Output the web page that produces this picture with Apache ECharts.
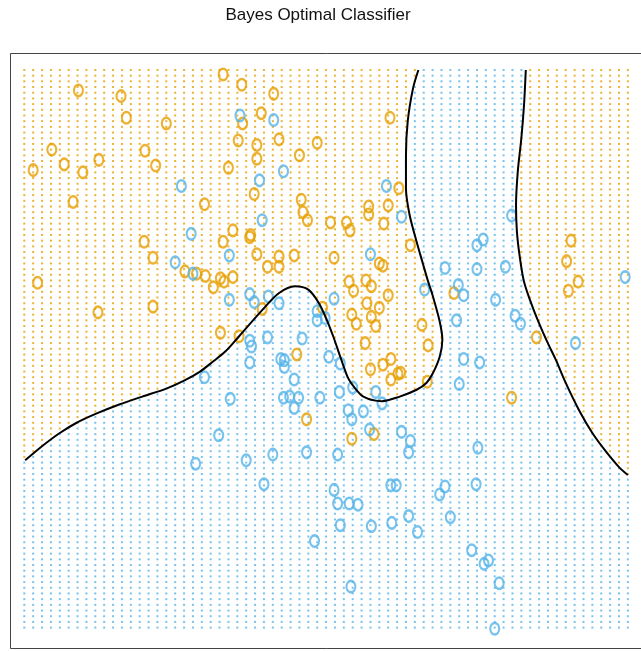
<!DOCTYPE html>
<html>
<head>
<meta charset="utf-8">
<script src="https://cdn.jsdelivr.net/npm/echarts@6/dist/echarts.min.js"></script>
<style>
html,body{margin:0;padding:0;background:#fff;}
#chart{width:641px;height:651px;}
</style>
</head>
<body>
<div id="chart"></div>
<script>
// ---- data (x1, x2) ----
const orangePoints = [
[-1.99,2.72],[-1.51,2.67],[-1.45,2.48],[-1.00,2.43],[-2.29,2.20],[-1.76,2.11],[-2.15,2.07],[-2.50,2.02],
[-1.94,2.00],[-1.24,2.19],[-1.12,2.06],[-2.05,1.74],[-0.57,1.72],[-1.25,1.39],[-1.15,1.25],[-2.45,1.03],
[-1.77,0.77],[-1.15,0.82],[-0.79,1.13],[-0.66,1.11],[-0.56,1.09],[-0.47,0.99],[-0.39,1.07],[-0.35,1.04],
[-0.36,1.39],[-0.39,0.59],[-0.36,2.86],[-0.30,2.04],[-0.15,2.77],[0.21,2.69],[0.07,2.52],[-0.14,2.43],
[-0.19,2.28],[0.02,2.24],[0.02,2.12],[0.27,2.29],[0.70,2.26],[0.50,2.15],[1.52,2.48],[-0.01,1.81],
[0.52,1.76],[0.54,1.65],[0.59,1.58],[0.85,1.56],[1.03,1.56],[1.07,1.49],[1.28,1.70],[1.28,1.63],
[1.50,1.71],[1.45,1.55],[1.62,1.86],[1.75,1.36],[-0.25,1.49],[-0.05,1.45],[-0.06,1.43],[0.02,1.28],
[0.27,1.26],[0.27,1.17],[0.14,1.17],[0.44,1.27],[0.89,1.25],[-0.25,1.08],[0.08,0.80],[-0.18,0.56],
[1.06,1.04],[1.11,0.96],[1.25,1.05],[1.31,1.00],[1.50,0.92],[1.26,0.85],[1.40,0.81],[1.09,0.75],
[1.14,0.67],[1.31,0.73],[1.36,0.65],[0.76,0.81],[1.88,0.66],[1.24,0.50],[1.40,1.20],[1.44,1.18],
[3.56,1.40],[3.51,1.22],[3.64,1.04],[3.53,0.96],[2.24,0.94],[3.17,0.55],[1.95,0.48],[0.47,0.40],
[1.30,0.27],[1.44,0.31],[1.53,0.36],[1.53,0.18],[1.61,0.23],[1.64,0.24],[1.94,0.16],[0.58,-0.17],
[1.09,-0.34],[1.34,-0.30],[2.89,0.02]
];
const bluePoints = [
[-0.83,1.88],[-0.72,1.46],[-0.90,1.21],[-0.70,1.11],[-0.29,1.27],[-0.29,0.88],[-0.17,2.50],[0.21,2.46],
[0.32,2.01],[0.05,1.93],[0.08,1.58],[1.48,1.88],[1.65,1.61],[1.30,1.28],[1.91,0.97],[-0.06,0.93],
[-0.01,0.86],[0.15,0.91],[0.27,0.85],[0.89,0.89],[0.70,0.78],[0.70,0.70],[0.79,0.72],[-0.06,0.52],
[0.14,0.55],[0.53,0.54],[2.89,1.62],[2.50,1.36],[2.57,1.41],[2.14,1.16],[2.50,1.15],[2.82,1.17],
[2.29,1.01],[2.35,0.92],[2.71,0.88],[2.27,0.70],[2.93,0.74],[2.99,0.67],[4.17,1.08],[3.61,0.50],
[-0.57,0.20],[-0.41,-0.31],[-0.67,-0.56],[-0.04,0.47],[-0.06,0.33],[0.29,0.36],[0.33,0.35],[0.33,0.29],
[0.44,0.18],[0.32,0.02],[0.39,0.03],[0.49,0.02],[0.44,-0.07],[0.73,0.02],[0.83,0.38],[0.96,0.32],
[0.95,0.07],[1.10,0.11],[1.05,-0.09],[1.22,-0.10],[1.09,-0.17],[1.36,0.07],[1.43,-0.03],[1.29,-0.26],
[1.65,-0.28],[1.75,-0.36],[1.73,-0.46],[-0.28,0.01],[-0.10,-0.53],[0.20,-0.48],[0.58,-0.46],[0.93,-0.48],
[0.10,-0.74],[0.89,-0.79],[0.93,-0.91],[1.06,-0.91],[1.16,-0.92],[1.53,-0.75],[1.59,-0.75],[0.96,-1.10],
[1.31,-1.11],[1.54,-1.08],[1.73,-1.02],[1.83,-1.16],[0.67,-1.24],[1.08,-1.64],[2.35,0.36],[2.53,0.33],
[2.30,0.14],[2.51,-0.42],[2.14,-0.76],[2.08,-0.83],[2.49,-0.74],[2.20,-1.03],[2.44,-1.32],[2.63,-1.41],
[2.58,-1.44],[2.75,-1.61],[2.70,-2.01]
];
// Bayes decision boundary (two contour pieces)
const boundaryLeft = [
[-2.59,-0.53],[-2.39,-0.40],[-2.20,-0.29],[-2.01,-0.20],[-1.79,-0.12],[-1.53,-0.04],[-1.27,0.03],[-1.00,0.10],
[-0.80,0.17],[-0.62,0.25],[-0.47,0.34],[-0.33,0.43],[-0.18,0.56],[0.08,0.79],[0.27,0.94],[0.45,1.00],
[0.60,0.97],[0.72,0.85],[0.81,0.70],[0.88,0.56],[0.96,0.38],[1.00,0.29],[1.05,0.19],[1.11,0.12],
[1.22,0.03],[1.43,-0.01],[1.63,0.03],[1.82,0.09],[1.93,0.15],[2.00,0.23],[2.08,0.38],[2.11,0.53],
[2.08,0.69],[2.00,0.92],[1.95,1.04],[1.89,1.20],[1.82,1.39],[1.74,1.63],[1.70,1.86],[1.70,2.15],
[1.72,2.45],[1.78,2.74],[1.84,2.90]
];
const boundaryRight = [
[3.05,2.90],[3.03,2.59],[3.00,2.30],[2.96,2.01],[2.94,1.71],[2.95,1.48],[2.98,1.27],[3.03,1.04],
[3.13,0.81],[3.24,0.60],[3.31,0.48],[3.39,0.35],[3.50,0.15],[3.65,-0.09],[3.80,-0.29],[3.95,-0.45],
[4.10,-0.59],[4.20,-0.66]
];
// evaluation lattice of the classifier
const latticeX = {from: -2.6, to: 4.2, step: 0.1};
const latticeY = {from: -2.0, to: 2.9, step: 0.05};

const ORANGE = '#E69F00';
const BLUE = '#56B4E9';

function inside(p, poly) {
  let c = false;
  for (let i = 0, j = poly.length - 1; i < poly.length; j = i++) {
    const xi = poly[i][0], yi = poly[i][1], xj = poly[j][0], yj = poly[j][1];
    if ((yi > p[1]) !== (yj > p[1]) && p[0] < (xj - xi) * (p[1] - yi) / (yj - yi) + xi) c = !c;
  }
  return c;
}
const polyA = [[-3, boundaryLeft[0][1]]].concat(boundaryLeft, [[boundaryLeft[boundaryLeft.length-1][0], 3.5], [-3, 3.5]]);
const lastR = boundaryRight[boundaryRight.length-1];
const polyB = boundaryRight.concat([[4.6, lastR[1]], [4.6, 3.5], [boundaryRight[0][0], 3.5]]);

const gridOrange = [], gridBlue = [];
const nx = Math.round((latticeX.to - latticeX.from) / latticeX.step);
const ny = Math.round((latticeY.to - latticeY.from) / latticeY.step);
for (let i = 0; i <= nx; i++) {
  const x = +(latticeX.from + i * latticeX.step).toFixed(3);
  for (let j = 0; j <= ny; j++) {
    const y = +(latticeY.from + j * latticeY.step).toFixed(3);
    if (inside([x, y], polyA) || inside([x, y], polyB)) gridOrange.push([x, y]);
    else gridBlue.push([x, y]);
  }
}

const chart = echarts.init(document.getElementById('chart'), null, {renderer: 'canvas'});
const ring = (color) => ({color: 'rgba(0,0,0,0)', borderColor: color, borderWidth: 2.3});
chart.setOption({
  animation: false,
  title: {
    text: 'Bayes Optimal Classifier',
    left: 313, top: 2, textAlign: 'center',
    textStyle: {fontFamily: 'Liberation Sans, Arial, sans-serif', fontSize: 17, fontWeight: 'normal', color: '#111'}
  },
  graphic: [{
    type: 'polyline', silent: true, z: 10,
    shape: {points: [[660, 53.5], [10.5, 53.5], [10.5, 648.5], [660, 648.5]]},
    style: {stroke: '#444', lineWidth: 1, fill: null}
  }],
  grid: {left: 10, top: 53, width: 634, height: 596, show: false},
  xAxis: {type: 'value', min: -2.761, max: 4.348, show: false},
  yAxis: {type: 'value', min: -2.188, max: 3.049, show: false},
  series: [
    {type: 'scatter', data: gridOrange, symbol: 'rect', symbolSize: 2, silent: true, itemStyle: {color: ORANGE}},
    {type: 'scatter', data: gridBlue, symbol: 'rect', symbolSize: 2, silent: true, itemStyle: {color: BLUE}},
    {type: 'line', data: boundaryLeft, showSymbol: false, smooth: 0.3, silent: true, lineStyle: {color: '#000', width: 2}},
    {type: 'line', data: boundaryRight, showSymbol: false, smooth: 0.3, silent: true, lineStyle: {color: '#000', width: 2}},
    {type: 'scatter', data: orangePoints, symbol: 'circle', symbolSize: [9, 11.5], itemStyle: ring(ORANGE)},
    {type: 'scatter', data: bluePoints, symbol: 'circle', symbolSize: [9, 11.5], itemStyle: ring(BLUE)}
  ]
});
</script>
</body>
</html>
